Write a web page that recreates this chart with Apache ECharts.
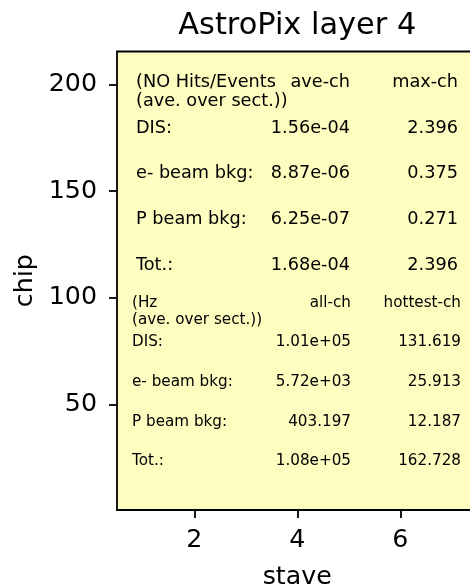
<!DOCTYPE html>
<html>
<head>
<meta charset="utf-8">
<script src="https://cdn.jsdelivr.net/npm/echarts@6/dist/echarts.min.js"></script>
<style>
html,body{margin:0;padding:0;background:#fff;}
#c{width:470px;height:587px;}
</style>
</head>
<body>
<div id="c"></div>
<script>
// ---- data ----
const titleText = 'AstroPix layer 4';
const xName = 'stave';
const yName = 'chip';
const xRange = [0.5, 7.5];
const yRange = [0.5, 215.5];
const xTicks = [2, 4, 6];
const yTicks = [50, 100, 150, 200];

const hitsHeader = ['(NO Hits/Events', 'ave-ch', 'max-ch'];
const hitsSub = '(ave. over sect.))';
const rateHeader = ['(Hz', 'all-ch', 'hottest-ch'];
const rateSub = '(ave. over sect.))';
const rowLabels = ['DIS:', 'e- beam bkg:', 'P beam bkg:', 'Tot.:'];
const hitsAve = ['1.56e-04', '8.87e-06', '6.25e-07', '1.68e-04'];
const hitsMax = ['2.396', '0.375', '0.271', '2.396'];
const rateAll = ['1.01e+05', '5.72e+03', '403.197', '1.08e+05'];
const rateHottest = ['131.619', '25.913', '12.187', '162.728'];

// ---- layout ----
const FONT = 'DejaVu Sans';
const G = {left: 117, top: 51.5, width: 360.5, height: 458.5};
const up = {x0: 136, x1: 350, x2: 458, headY: 82.5, subY: 101.5, rowY: [128, 173.5, 219.5, 265], size: 17.7};
const lo = {x0: 132, x1: 351, x2: 461, headY: 303, subY: 320, rowY: [342, 382, 422, 461.5], size: 15.2};

function txt(text, x, y, size, align) {
  return {type: 'text', x: x, y: y, z: 100,
    style: {text: text, fontFamily: FONT, fontSize: size, fill: '#000', align: align, verticalAlign: 'middle'}};
}
function block(L, header, sub, c1, c2) {
  const out = [];
  out.push(txt(header[0], L.x0, L.headY, L.size, 'left'));
  out.push(txt(header[1], L.x1, L.headY, L.size, 'right'));
  out.push(txt(header[2], L.x2, L.headY, L.size, 'right'));
  out.push(txt(sub, L.x0, L.subY, L.size, 'left'));
  rowLabels.forEach((r, i) => {
    out.push(txt(r, L.x0, L.rowY[i], L.size, 'left'));
    out.push(txt(c1[i], L.x1, L.rowY[i], L.size, 'right'));
    out.push(txt(c2[i], L.x2, L.rowY[i], L.size, 'right'));
  });
  return out;
}

const chart = echarts.init(document.getElementById('c'), null, {renderer: 'canvas'});
const axisCommon = {
  type: 'value',
  nameLocation: 'middle',
  nameTextStyle: {fontFamily: FONT, fontSize: 25.3, color: '#000'},
  axisLine: {show: false},
  splitLine: {show: false},
  axisTick: {show: true, length: 8, lineStyle: {color: '#000', width: 1.8}},
  axisLabel: {fontFamily: FONT, fontSize: 25.3, color: '#000'}
};
chart.setOption({
  animation: false,
  backgroundColor: '#fff',
  grid: {left: G.left, top: G.top, width: G.width, height: G.height, show: true,
         outerBoundsMode: 'none', containLabel: false,
         backgroundColor: '#fdfdc0', borderColor: '#000', borderWidth: 1.8},
  xAxis: Object.assign({}, axisCommon, {
    min: xRange[0], max: xRange[1], name: xName, nameGap: 55,
    axisTick: Object.assign({}, axisCommon.axisTick, {customValues: xTicks}),
    axisLabel: Object.assign({}, axisCommon.axisLabel, {customValues: xTicks, margin: 18})
  }),
  yAxis: Object.assign({}, axisCommon, {
    min: yRange[0], max: yRange[1], name: yName, nameGap: 72,
    axisTick: Object.assign({}, axisCommon.axisTick, {customValues: yTicks}),
    axisLabel: Object.assign({}, axisCommon.axisLabel, {customValues: yTicks, margin: 20})
  }),
  series: [{type: 'scatter', data: [], silent: true}],
  graphic: [txt(titleText, G.left + G.width / 2, 26, 30.4, 'center')]
    .concat(block(up, hitsHeader, hitsSub, hitsAve, hitsMax))
    .concat(block(lo, rateHeader, rateSub, rateAll, rateHottest))
});
</script>
</body>
</html>
